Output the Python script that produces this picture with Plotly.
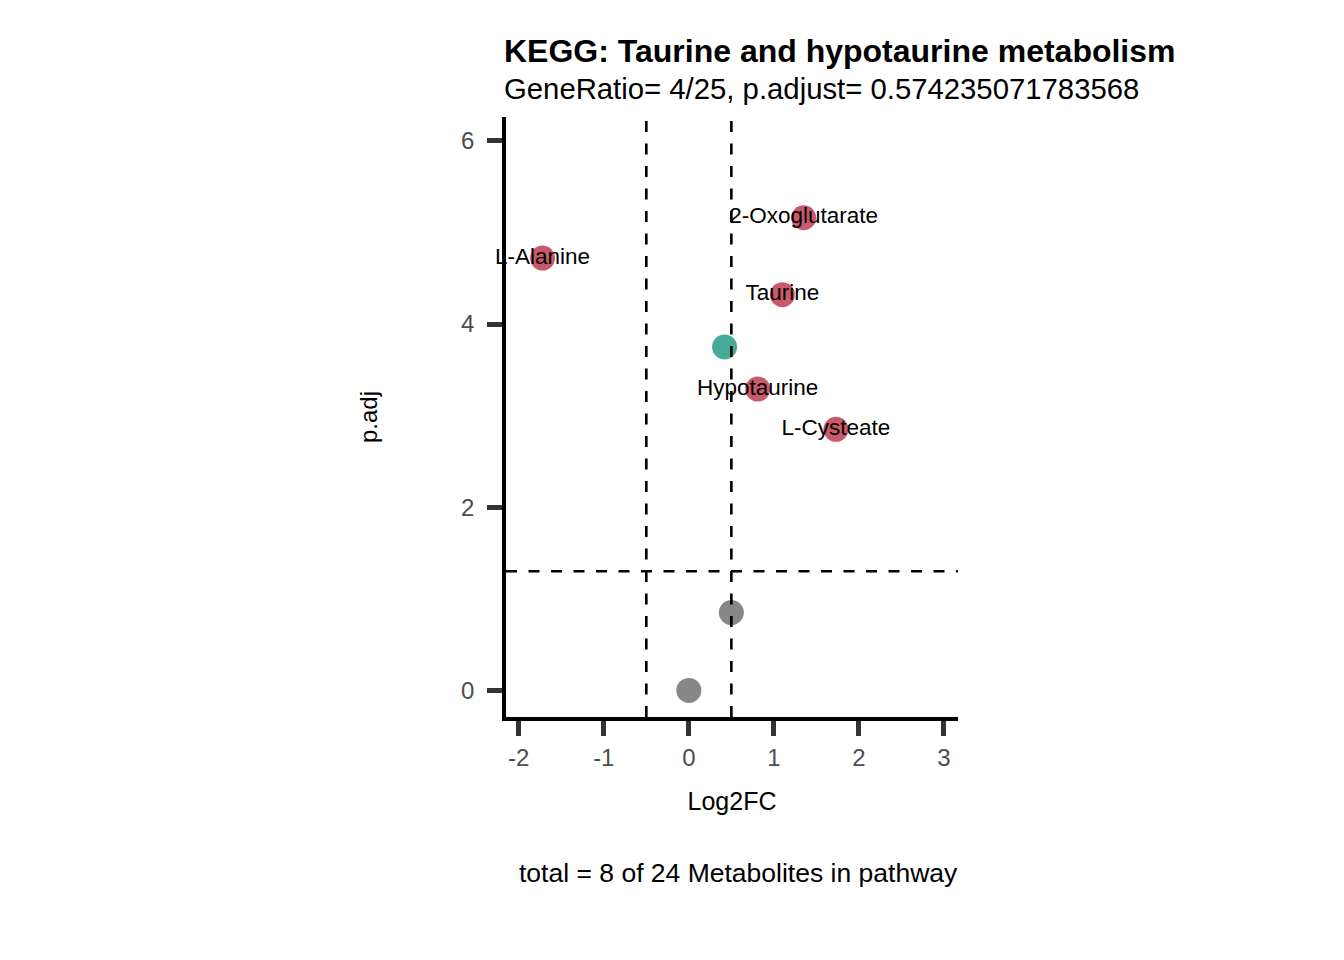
import plotly.graph_objects as go

# data
names = ["L-Alanine", "2-Oxoglutarate", "Taurine", "", "Hypotaurine", "L-Cysteate", "", ""]
log2fc = [-1.72, 1.35, 1.10, 0.42, 0.81, 1.73, 0.50, 0.0]
padj = [4.72, 5.16, 4.32, 3.75, 3.29, 2.85, 0.85, 0.0]
groups = ["up", "up", "up", "mid", "up", "up", "ns", "ns"]
x_ticks = [-2, -1, 0, 1, 2, 3]
y_ticks = [0, 2, 4, 6]
fc_cut = [-0.5, 0.5]
p_cut = 1.30103

color_map = {"up": "#C95A6B", "mid": "#45AA98", "ns": "#878787"}
FONT = "Liberation Sans"

fig = go.Figure()
fig.add_trace(go.Scatter(
    x=log2fc, y=padj, mode="markers+text",
    text=names, textposition="middle center",
    textfont=dict(family=FONT, size=22.5, color="#000000"),
    marker=dict(size=25, color=[color_map[g] for g in groups], line=dict(width=0)),
    showlegend=False, hoverinfo="skip", cliponaxis=False,
))

for v in fc_cut:
    fig.add_shape(type="line", xref="x", yref="paper", x0=v, x1=v, y0=0, y1=1,
                  line=dict(color="black", width=2.6, dash="11px,11.5px"), layer="above")
fig.add_shape(type="line", xref="paper", yref="y", x0=0, x1=1, y0=p_cut, y1=p_cut,
              line=dict(color="black", width=2.6, dash="11px,11.5px"), layer="above")

axis_common = dict(
    showline=True, linecolor="black", linewidth=3.5,
    ticks="outside", ticklen=15, tickwidth=4.5, tickcolor="#333333",
    showgrid=False, zeroline=False,
    tickfont=dict(family=FONT, size=24, color="#4D4D4D"),
)

fig.update_layout(
    width=1344, height=960,
    margin=dict(l=498, r=394, t=109, b=251),
    paper_bgcolor="white", plot_bgcolor="white",
    xaxis=dict(range=[-2.15, 3.165], tickvals=x_ticks, ticktext=[str(t) for t in x_ticks],
               title=dict(text="Log2FC", font=dict(family=FONT, size=25, color="black"), standoff=24),
               ticklabelstandoff=1, **axis_common),
    yaxis=dict(range=[-0.29, 6.26], tickvals=y_ticks, ticktext=[str(t) for t in y_ticks],
               title=dict(text="p.adj", font=dict(family=FONT, size=24, color="black"), standoff=78),
               ticklabelstandoff=8, **axis_common),
    annotations=[
        dict(text="<b>KEGG: Taurine and hypotaurine metabolism</b>", xref="paper", yref="paper",
             x=0, y=1.110, xanchor="left", yanchor="middle", showarrow=False, xshift=-4,
             font=dict(family=FONT, size=32, color="black")),
        dict(text="GeneRatio= 4/25, p.adjust= 0.574235071783568", xref="paper", yref="paper",
             x=0, y=1.048, xanchor="left", yanchor="middle", showarrow=False, xshift=-4,
             font=dict(family=FONT, size=29.3, color="black")),
        dict(text="total = 8 of 24 Metabolites in pathway", xref="paper", yref="paper",
             x=1, y=-0.2596, xanchor="right", yanchor="middle", showarrow=False, xshift=2,
             font=dict(family=FONT, size=26.5, color="black")),
    ],
)

fig.write_html("out.html")
